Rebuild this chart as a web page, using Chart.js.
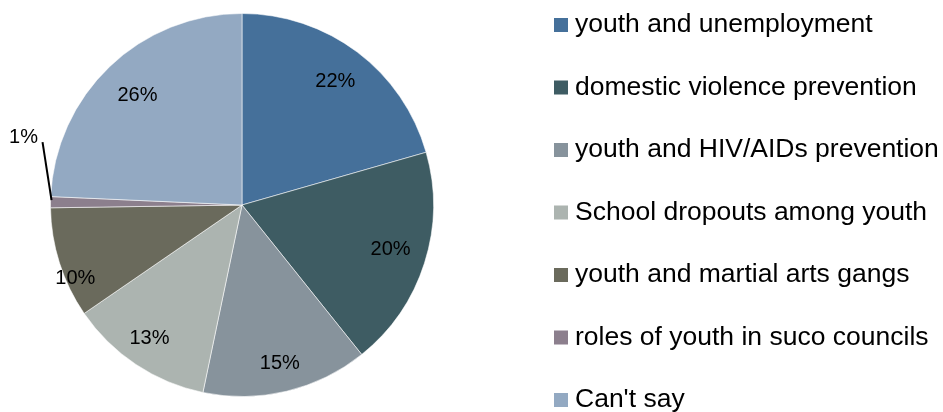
<!DOCTYPE html>
<html>
<head>
<meta charset="utf-8">
<script src="https://cdn.jsdelivr.net/npm/chart.js@4"></script>
<style>
  html, body { margin: 0; padding: 0; background: #fff; }
  #wrap { width: 943px; height: 412px; }
</style>
</head>
<body>
<div id="wrap"><canvas id="pieChart" width="943" height="412"></canvas></div>
<script>
// Survey answers, shares in percent
const topics = [
  'youth and unemployment',
  'domestic violence prevention',
  'youth and HIV/AIDs prevention',
  'School dropouts among youth',
  'youth and martial arts gangs',
  'roles of youth in suco councils',
  "Can't say"
];
const shares = [22, 20, 15, 13, 10, 1, 26];

const sliceColors = ['#45709a', '#3e5c63', '#87939c', '#acb4b0', '#6a6a5c', '#8c7f8d', '#93a9c2'];

// label placement inside each slice (fraction of radius, angle nudge in degrees)
const labelRadius = [0.81, 0.81, 0.85, 0.85, 0.95, 1, 0.79];
const labelNudge = [0, -1, 0, 1, -6, 0, 0];

const FONT = '"Liberation Sans", Arial, sans-serif';

// percent labels on the slices; the tiny slice gets a leader line
const sliceLabels = {
  id: 'sliceLabels',
  afterDatasetsDraw(chart) {
    const ctx = chart.ctx;
    const arcs = chart.getDatasetMeta(0).data;
    ctx.save();
    ctx.font = '20px ' + FONT;
    ctx.fillStyle = '#000';
    ctx.textAlign = 'center';
    ctx.textBaseline = 'middle';
    arcs.forEach((arc, i) => {
      const p = arc.getProps(['x', 'y', 'startAngle', 'endAngle', 'outerRadius'], true);
      const mid = (p.startAngle + p.endAngle) / 2 + labelNudge[i] * Math.PI / 180;
      const text = shares[i] + '%';
      if (shares[i] < 3) {
        const ex = p.x + Math.cos(mid) * p.outerRadius;
        const ey = p.y + Math.sin(mid) * p.outerRadius;
        const lx = ex - 8, ly = ey - 60;
        ctx.beginPath();
        ctx.moveTo(ex + 1, ey - 2);
        ctx.lineTo(lx, ly);
        ctx.lineWidth = 2;
        ctx.strokeStyle = '#000';
        ctx.stroke();
        ctx.fillText(text, lx - 19, ly - 5);
        return;
      }
      const r = p.outerRadius * labelRadius[i];
      ctx.fillText(text, p.x + Math.cos(mid) * r, p.y + Math.sin(mid) * r);
    });
    ctx.restore();
  }
};

// legend column on the right
const sideLegend = {
  id: 'sideLegend',
  afterDraw(chart) {
    const ctx = chart.ctx;
    ctx.save();
    ctx.font = '26.5px ' + FONT;
    ctx.textBaseline = 'alphabetic';
    ctx.textAlign = 'left';
    topics.forEach((name, i) => {
      const cy = 25 + i * 62.5;
      ctx.fillStyle = sliceColors[i];
      ctx.fillRect(554, cy - 7, 14, 14);
      ctx.fillStyle = '#000';
      ctx.fillText(name, 575, cy + 7);
    });
    ctx.restore();
  }
};

new Chart(document.getElementById('pieChart'), {
  type: 'pie',
  data: {
    labels: topics,
    datasets: [{
      data: shares,
      backgroundColor: sliceColors,
      borderColor: 'rgba(255,255,255,0.55)',
      borderWidth: 1
    }]
  },
  options: {
    responsive: false,
    animation: false,
    layout: { padding: { left: 50, right: 509, top: 13, bottom: 15 } },
    plugins: {
      legend: { display: false },
      tooltip: { enabled: false }
    }
  },
  plugins: [sliceLabels, sideLegend]
});
</script>
</body>
</html>
